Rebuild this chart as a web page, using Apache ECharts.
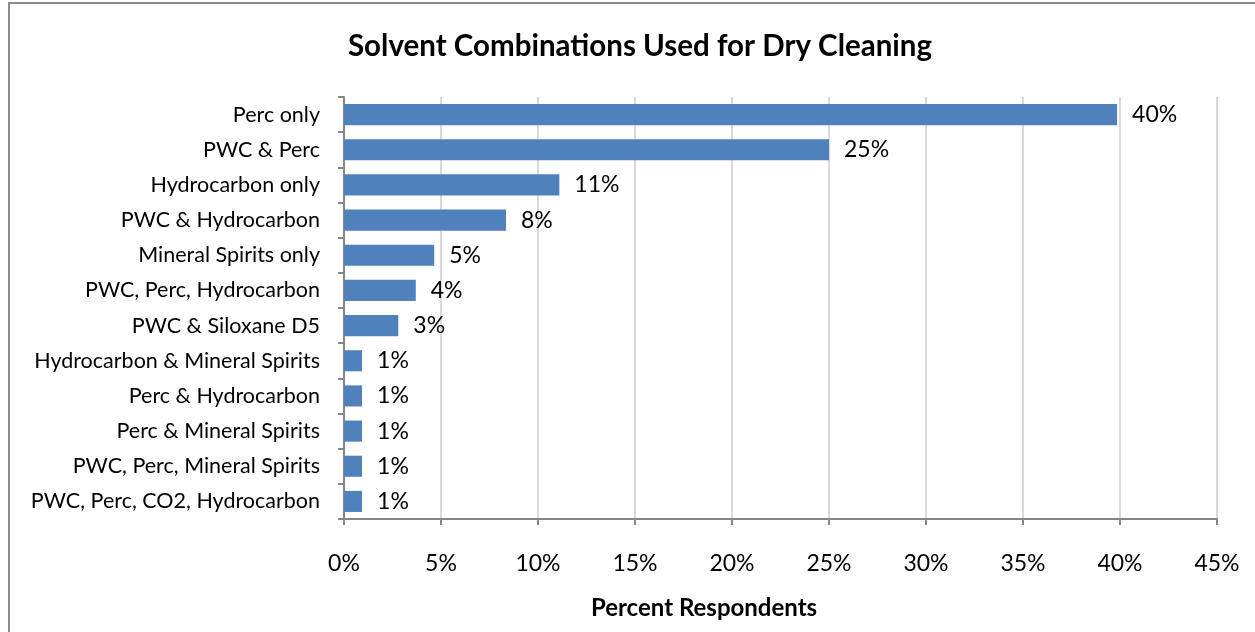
<!DOCTYPE html>
<html>
<head>
<meta charset="utf-8">
<script src="https://cdn.jsdelivr.net/npm/echarts@6/dist/echarts.min.js"></script>
<style>
  html, body { margin: 0; padding: 0; background: #fff; }
  #frame { position: absolute; left: 8px; top: 2px; width: 1260px; height: 640px; border: 2px solid #8c8c8c; box-sizing: border-box; }
  #chart { position: absolute; left: 0; top: 0; width: 1255px; height: 632px; }
</style>
</head>
<body>
<div id="frame"></div>
<div id="chart"></div>
<script>
// categories, top to bottom as in the picture
const categories = [
  'Perc only',
  'PWC & Perc',
  'Hydrocarbon only',
  'PWC & Hydrocarbon',
  'Mineral Spirits only',
  'PWC, Perc, Hydrocarbon',
  'PWC & Siloxane D5',
  'Hydrocarbon & Mineral Spirits',
  'Perc & Hydrocarbon',
  'Perc & Mineral Spirits',
  'PWC, Perc, Mineral Spirits',
  'PWC, Perc, CO2, Hydrocarbon'
];
// percent respondents
const values = [39.85, 25.0, 11.1, 8.35, 4.65, 3.7, 2.8, 0.93, 0.93, 0.93, 0.93, 0.93];
const xTicks = [0, 5, 10, 15, 20, 25, 30, 35, 40, 45];

const font = 'Lato, "Open Sans", sans-serif';

let myChart = echarts.init(document.getElementById('chart'));

let option = {
  animation: false,
  title: [
    {
      text: 'Solvent Combinations Used for Dry Cleaning',
      left: 635,
      top: 26,
      textAlign: 'center',
      textStyle: { fontFamily: font, fontSize: 29.5, fontWeight: 'bold', color: '#000' }
    },
    {
      text: 'Percent Respondents',
      left: 699,
      top: 591,
      textAlign: 'center',
      textStyle: { fontFamily: font, fontSize: 24, fontWeight: 'bold', color: '#000' }
    }
  ],
  grid: { left: 344, right: 38, top: 97, bottom: 113, containLabel: false },
  xAxis: {
    type: 'value',
    min: xTicks[0],
    max: xTicks[xTicks.length - 1],
    interval: 5,
    axisLine: { show: true, lineStyle: { color: '#868686', width: 2 } },
    axisTick: { show: true, length: 6, lineStyle: { color: '#868686', width: 2 } },
    splitLine: { show: true, lineStyle: { color: '#d9d9d9', width: 2 } },
    axisLabel: {
      margin: 33,
      fontFamily: font,
      fontSize: 23,
      color: '#000',
      formatter: '{value}%'
    }
  },
  yAxis: {
    type: 'category',
    inverse: true,
    data: categories,
    axisLine: { show: true, lineStyle: { color: '#868686', width: 2 } },
    axisTick: { show: true, length: 6, lineStyle: { color: '#868686', width: 2 } },
    axisLabel: {
      margin: 24,
      fontFamily: font,
      fontSize: 21.5,
      color: '#000'
    }
  },
  series: [
    {
      type: 'bar',
      data: values,
      barCategoryGap: '40%',
      itemStyle: { color: '#4f81bd' },
      label: {
        show: true,
        position: 'right',
        distance: 15,
        fontFamily: font,
        fontSize: 23,
        color: '#000',
        formatter: function (p) { return Math.round(p.value) + '%'; }
      }
    }
  ]
};

myChart.setOption(option);
</script>
</body>
</html>
